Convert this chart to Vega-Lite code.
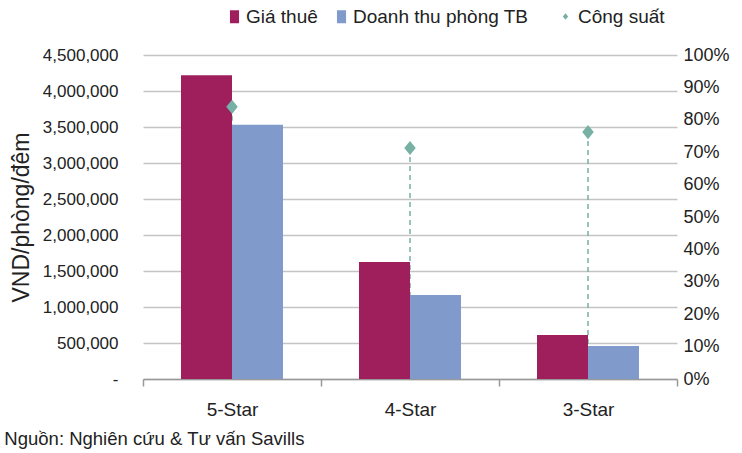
{
  "$schema": "https://vega.github.io/schema/vega-lite/v6.json",
  "width": 534,
  "height": 324,
  "autosize": {"type": "none"},
  "padding": {"left": 143, "top": 55, "right": 65, "bottom": 74},
  "background": "white",
  "config": {
    "font": "Liberation Sans",
    "view": {"stroke": null},
    "axis": {"labelFont": "Liberation Sans", "labelFontSize": 17, "labelColor": "#222222", "titleColor": "#222222", "titleFont": "Liberation Sans"},
    "axisX": {"tickBand": "extent", "labelAngle": 0, "labelFontSize": 19, "domainColor": "#999999", "tickColor": "#999999", "tickSize": 7, "labelPadding": 14, "title": null, "grid": false, "domainWidth": 1.5, "tickWidth": 1.5}
  },
  "title": {"text": "Nguồn: Nghiên cứu & Tư vấn Savills", "orient": "bottom", "anchor": "start", "offset": 11, "dx": -6, "fontSize": 18.5, "fontWeight": "normal", "color": "#222222", "font": "Liberation Sans"},
  "datasets": {
    "bars": [
      {"cat": "5-Star", "series": "Giá thuê", "value": 4220000},
      {"cat": "5-Star", "series": "Doanh thu phòng TB", "value": 3530000},
      {"cat": "4-Star", "series": "Giá thuê", "value": 1625000},
      {"cat": "4-Star", "series": "Doanh thu phòng TB", "value": 1167000},
      {"cat": "3-Star", "series": "Giá thuê", "value": 612000},
      {"cat": "3-Star", "series": "Doanh thu phòng TB", "value": 458000}
    ],
    "occ": [
      {"cat": "5-Star", "series": "Công suất", "occ": 0.84},
      {"cat": "4-Star", "series": "Công suất", "occ": 0.713},
      {"cat": "3-Star", "series": "Công suất", "occ": 0.762}
    ]
  },
  "layer": [
    {
      "data": {"name": "occ"},
      "mark": {"type": "rule", "color": "#77B0A4", "strokeDash": [5, 4], "strokeWidth": 1.5},
      "encoding": {
        "x": {"field": "cat", "type": "nominal", "sort": ["5-Star", "4-Star", "3-Star"], "scale": {"paddingInner": 0, "paddingOuter": 0}},
        "y": {"field": "occ", "type": "quantitative", "scale": {"domain": [0, 1], "nice": false},
              "axis": {"orient": "right", "format": ".0%", "labelFontSize": 18, "values": [0, 0.1, 0.2, 0.3, 0.4, 0.5, 0.6, 0.7, 0.8, 0.9, 1], "grid": false, "ticks": false, "domain": false, "labelPadding": 6, "title": null}},
        "y2": {"datum": 0}
      }
    },
    {
      "data": {"name": "bars"},
      "mark": {"type": "bar"},
      "encoding": {
        "x": {"field": "cat", "type": "nominal", "sort": ["5-Star", "4-Star", "3-Star"], "scale": {"paddingInner": 0, "paddingOuter": 0}},
        "xOffset": {"field": "series", "type": "nominal", "sort": ["Giá thuê", "Doanh thu phòng TB"], "scale": {"domain": ["Giá thuê", "Doanh thu phòng TB"], "paddingInner": 0, "paddingOuter": 0.745}},
        "y": {"field": "value", "type": "quantitative", "scale": {"domain": [0, 4500000], "nice": false},
              "axis": {"orient": "left", "title": "VND/phòng/đêm", "titleFontSize": 23, "titleFontWeight": "normal", "titlePadding": 9,
                       "values": [0, 500000, 1000000, 1500000, 2000000, 2500000, 3000000, 3500000, 4000000, 4500000],
                       "labelExpr": "datum.value === 0 ? '-' : format(datum.value, ',')",
                       "grid": true, "gridColor": "#c4c4c4", "gridWidth": 1.5, "ticks": false, "domain": false, "labelPadding": 25}},
        "color": {"field": "series", "type": "nominal",
                  "scale": {"domain": ["Giá thuê", "Doanh thu phòng TB"], "range": ["#9E1F5C", "#7F9ACB"]},
                  "legend": {"orient": "none", "direction": "horizontal", "legendX": 82, "legendY": -48, "title": null,
                             "labelFontSize": 19, "labelColor": "#222222", "labelFont": "Liberation Sans", "labelLimit": 400, "columnPadding": 14, "labelOffset": 2,
                             "symbolType": "M-0.7,-1L0.7,-1L0.7,1L-0.7,1Z", "symbolSize": 169, "symbolStrokeWidth": 0}}
      }
    },
    {
      "data": {"name": "occ"},
      "mark": {"type": "point", "filled": true, "opacity": 1, "shape": "M0,-1.1L0.9,0L0,1.1L-0.9,0Z", "size": 164},
      "encoding": {
        "x": {"field": "cat", "type": "nominal", "sort": ["5-Star", "4-Star", "3-Star"], "scale": {"paddingInner": 0, "paddingOuter": 0}},
        "y": {"field": "occ", "type": "quantitative", "scale": {"domain": [0, 1], "nice": false}, "axis": null},
        "color": {"field": "series", "type": "nominal",
                  "scale": {"domain": ["Công suất"], "range": ["#77B0A4"]},
                  "legend": {"orient": "none", "direction": "horizontal", "legendX": 413, "legendY": -48, "title": null,
                             "labelFontSize": 19, "labelColor": "#222222", "labelFont": "Liberation Sans", "labelLimit": 400, "labelOffset": 3,
                             "symbolType": "M0,-1.1L0.9,0L0,1.1L-0.9,0Z", "symbolSize": 36, "symbolStrokeWidth": 0, "symbolOpacity": 1}}
      }
    }
  ],
  "resolve": {"scale": {"y": "independent", "color": "independent"}}
}
